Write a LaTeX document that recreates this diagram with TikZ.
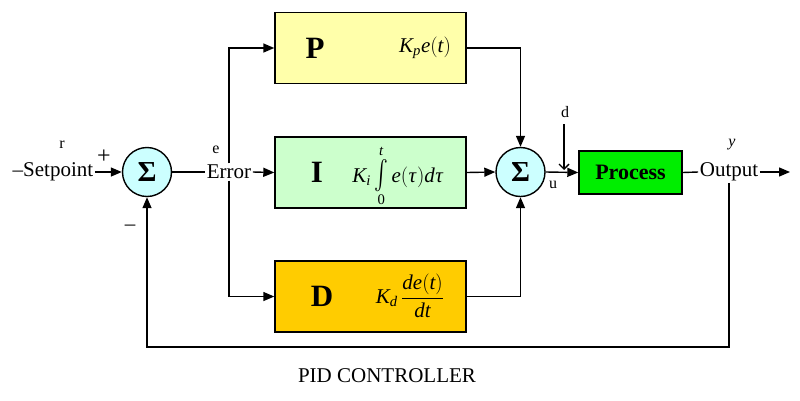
\documentclass[tikz,border=0pt]{standalone}
\usepackage{amsmath}
\usepackage{graphicx}
\usepackage{mathspec}
\setmainfont{Liberation Serif}
\setmathsfont(Digits,Latin,Greek){Liberation Serif}
\usetikzlibrary{arrows.meta,positioning}

\definecolor{pyellow}{RGB}{255,255,170}
\definecolor{igreen}{RGB}{204,255,204}
\definecolor{dgold}{RGB}{255,204,0}
\definecolor{procgreen}{RGB}{0,238,0}
\definecolor{sumcyan}{RGB}{204,255,255}

\tikzset{
  arr/.style={-{Triangle[length=11pt,width=9pt]}},
  gainbox/.style={draw, line width=1.4pt, minimum width=191pt, minimum height=71pt, inner sep=0pt},
  sumnode/.style={circle, draw, line width=1.4pt, fill=sumcyan, minimum size=49pt, inner sep=0pt,
    font=\fontsize{29}{31}\selectfont\bfseries},
  lbl/.style={font=\fontsize{21}{23}\selectfont, inner sep=1pt},
  small/.style={font=\fontsize{16}{18}\selectfont, inner sep=0pt},
}

\begin{document}
\begin{tikzpicture}[x=1pt,y=-1pt,line width=1.4pt]
    \useasboundingbox (0,0) rectangle (800,400);

    % Blocks
    \node [gainbox, fill=pyellow] (pbox) at (370.5,48) {};
    \node [gainbox, fill=igreen] (ibox) at (370.5,172.5) {};
    \node [gainbox, fill=dgold] (dbox) at (370.5,296.5) {};
    \node [draw, line width=1.4pt, fill=procgreen, minimum width=103pt, minimum height=43pt,
      font=\fontsize{22}{24}\selectfont\bfseries] (proc) at (630.5,172.5) {Process};

    % Summing junctions
    \node [sumnode] (sumA) at (147,172) {Σ};
    \node [sumnode] (sumB) at (520.5,172) {Σ};

    % Block texts
    \node [font=\fontsize{31}{33}\selectfont\bfseries] (pname) at (315,48) {P};
    \node [font=\fontsize{31}{33}\selectfont\bfseries] (iname) at (317,172) {I};
    \node [font=\fontsize{31}{33}\selectfont\bfseries] (dname) at (322,296) {D};
    \node [font=\fontsize{21}{23}\selectfont] (pform) at (425,48) {$K_p e(t)$};
    \node [font=\fontsize{21}{23}\selectfont, inner sep=0pt] (iform) at (398,176)
      {$K_i\mathop{\scalebox{1}[1.4]{$\int$}}\limits_{0}^{t} e(\tau)d\tau$};
    \node [font=\fontsize{21}{23}\selectfont] (dform) at (410,296) {$K_d\,\dfrac{de(t)}{dt}$};

    % Signals
    \node [lbl, anchor=west] (sp) at (11,172) {–Setpoint};
    \node [lbl, fill=white] (err) at (229,172) {Error};
    \node [lbl] (out) at (729,172) {Output};
    \coordinate (yend) at (790,172);
    \coordinate (dtop) at (564,124);
    \coordinate (dbot) at (564,170);
    \coordinate (fbrow) at (0,347);

    % Labels
    \node [small] (rlab) at (62,145) {r};
    \node [font=\fontsize{24}{26}\selectfont, inner sep=0pt] (plus) at (104,157) {+};
    \node [lbl] (minus) at (130,228) {–};
    \node [small] (elab) at (216,150) {e};
    \node [small] (ulab) at (553,185) {u};
    \node [small] (dlab) at (565,112) {d};
    \node [small] (ylab) at (732,145) {\textit{y}};
    \node [lbl] (caption) at (387,376) {PID CONTROLLER};

    % Connectors
    \draw [arr] (sp.east) -- (sumA.west);
    \draw (sumA.east) -- (err.west);
    \draw [arr] (err.east) -- (ibox.west);
    \draw [arr] (err.north) |- (pbox.west);
    \draw [arr] (err.south) |- (dbox.west);
    \draw [arr] (pbox.east) -| (sumB.north);
    \draw [arr] (ibox.east) -- (sumB.west);
    \draw [arr] (dbox.east) -| (sumB.south);
    \draw [arr] (sumB.east) -- (proc.west);
    \draw [-{Straight Barb[length=5pt,width=10pt]}] (dtop) -- (dbot);
    \draw (proc.east) -- (out.west);
    \draw [arr] (out.east) -- (yend);
    \draw [arr] (out.south) -- (out.south |- fbrow) -| (sumA.south);

\end{tikzpicture}
\end{document}
